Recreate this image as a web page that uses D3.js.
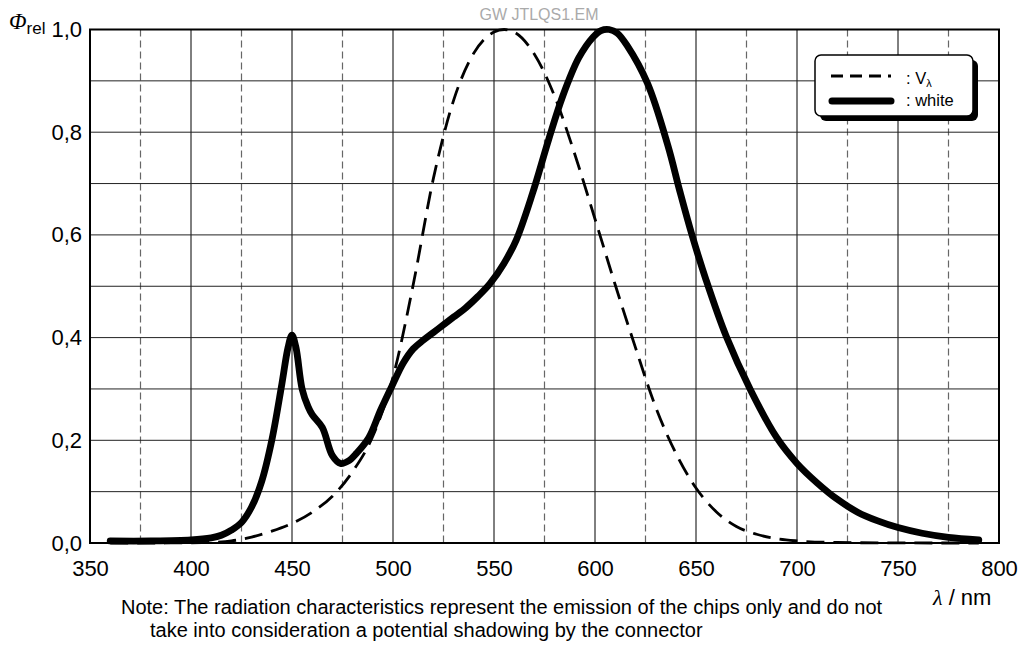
<!DOCTYPE html>
<html>
<head>
<meta charset="utf-8">
<title>GW JTLQS1.EM spectrum</title>
<script src="https://d3js.org/d3.v7.min.js"></script>
<style>
  body { margin: 0; background: #fff; }
  text { font-family: "Liberation Sans", Arial, Helvetica, sans-serif; fill: #000; }
</style>
</head>
<body>
<script>
// wavelength (nm) and relative flux
var whiteNm  = [360, 380, 400, 410, 415, 420, 425, 430, 435, 440, 445, 448, 450, 452, 455, 458, 460, 465, 470, 474, 478, 482, 488, 494, 500, 505, 510, 515, 520, 525, 530, 536, 542, 548, 555, 561, 569, 577, 584, 592, 599, 603, 607, 611, 616, 626, 636, 642, 648, 655, 665, 677, 690, 700, 710, 720, 730, 740, 750, 762, 775, 790]
var whiteVal = [0.004, 0.004, 0.006, 0.01, 0.015, 0.025, 0.04, 0.07, 0.12, 0.2, 0.31, 0.38, 0.405, 0.38, 0.3, 0.265, 0.25, 0.225, 0.17, 0.155, 0.16, 0.175, 0.205, 0.26, 0.31, 0.35, 0.378, 0.395, 0.41, 0.425, 0.44, 0.458, 0.48, 0.505, 0.545, 0.59, 0.68, 0.785, 0.87, 0.945, 0.985, 0.998, 1.0, 0.993, 0.968, 0.895, 0.775, 0.685, 0.6, 0.512, 0.402, 0.298, 0.205, 0.155, 0.117, 0.085, 0.06, 0.043, 0.03, 0.019, 0.011, 0.006]

var vNm  = [360, 380, 400, 410, 420, 430, 440, 450, 460, 470, 480, 490, 500, 510, 520, 530, 540, 550, 555, 560, 570, 580, 590, 600, 610, 620, 630, 640, 650, 660, 670, 680, 690, 700, 720, 750, 790]
var vVal = [0.0, 0.0, 0.0004, 0.0012, 0.004, 0.0116, 0.023, 0.038, 0.06, 0.091, 0.139, 0.208, 0.323, 0.503, 0.71, 0.862, 0.954, 0.995, 1.0, 0.995, 0.952, 0.87, 0.757, 0.631, 0.503, 0.381, 0.265, 0.175, 0.107, 0.061, 0.032, 0.017, 0.0082, 0.0041, 0.001, 0.0001, 0.0]

var xTicks = [350, 400, 450, 500, 550, 600, 650, 700, 750, 800]
var xHalfTicks = [375, 425, 475, 525, 575, 625, 675, 725, 775]
var yTicks = [0, 0.2, 0.4, 0.6, 0.8, 1.0]
var yGrid = [0.1, 0.2, 0.3, 0.4, 0.5, 0.6, 0.7, 0.8, 0.9]
var legendLabels = [': V', ': white']

var W = 1024, H = 646
var margin = { top: 29.5, right: 25, bottom: 103, left: 90 }
var w = W - margin.left - margin.right
var h = H - margin.top - margin.bottom

var xScale = d3.scaleLinear().domain([350, 800]).range([0, w])
var yScale = d3.scaleLinear().domain([0, 1]).range([h, 0])

var svg = d3.select('body').append('svg')
    .attr('width', W)
    .attr('height', H)

var g = svg.append('g')
    .attr('transform', 'translate(' + margin.left + ',' + margin.top + ')')

// grid
g.selectAll('.vdash').data(xHalfTicks).enter().append('line')
    .attr('x1', function (d) { return xScale(d) }).attr('x2', function (d) { return xScale(d) })
    .attr('y1', 0).attr('y2', h)
    .attr('stroke', '#666').attr('stroke-width', 1.2).attr('stroke-dasharray', '7,4')
g.selectAll('.vsolid').data(xTicks.slice(1, -1)).enter().append('line')
    .attr('x1', function (d) { return xScale(d) }).attr('x2', function (d) { return xScale(d) })
    .attr('y1', 0).attr('y2', h)
    .attr('stroke', '#000').attr('stroke-width', 1)
g.selectAll('.hgrid').data(yGrid).enter().append('line')
    .attr('x1', 0).attr('x2', w)
    .attr('y1', function (d) { return yScale(d) }).attr('y2', function (d) { return yScale(d) })
    .attr('stroke', '#222').attr('stroke-width', 1)

// axes (ticks hidden, labels kept)
var xAxis = d3.axisBottom(xScale).tickValues(xTicks).tickSize(0).tickPadding(17)
var yAxis = d3.axisLeft(yScale).tickValues(yTicks).tickSize(0).tickPadding(8)
    .tickFormat(function (d) { return d3.format('.1f')(d).replace('.', ',') })

var gx = g.append('g').attr('transform', 'translate(0,' + h + ')').call(xAxis)
var gy = g.append('g').call(yAxis)
gx.select('.domain').remove()
gy.select('.domain').remove()
gx.selectAll('text').attr('font-size', 22).attr('font-family', '"Liberation Sans", Arial, sans-serif').attr('fill', '#000')
gy.selectAll('text').attr('font-size', 22).attr('font-family', '"Liberation Sans", Arial, sans-serif').attr('fill', '#000')

// curves
var vLine = d3.line()
    .x(function (d) { return xScale(d[0]) })
    .y(function (d) { return yScale(d[1]) })
    .curve(d3.curveMonotoneX)

var whiteLine = d3.line()
    .x(function (d) { return xScale(d[0]) })
    .y(function (d) { return yScale(d[1]) })
    .curve(d3.curveCatmullRom.alpha(0.5))

g.append('path')
    .datum(d3.zip(vNm, vVal))
    .attr('d', vLine)
    .attr('fill', 'none')
    .attr('stroke', '#000')
    .attr('stroke-width', 2.8)
    .attr('stroke-dasharray', '18,9')

g.append('path')
    .datum(d3.zip(whiteNm, whiteVal))
    .attr('d', whiteLine)
    .attr('fill', 'none')
    .attr('stroke', '#000')
    .attr('stroke-width', 6.8)
    .attr('stroke-linejoin', 'round')
    .attr('stroke-linecap', 'round')

// frame
g.append('rect')
    .attr('x', 0).attr('y', 0).attr('width', w).attr('height', h)
    .attr('fill', 'none').attr('stroke', '#000').attr('stroke-width', 2)

// legend
var lg = svg.append('g').attr('transform', 'translate(815,55)')
lg.append('rect').attr('x', 5).attr('y', 5).attr('width', 158).attr('height', 61).attr('rx', 6)
    .attr('fill', '#000')
lg.append('rect').attr('x', 0).attr('y', 0).attr('width', 158).attr('height', 61).attr('rx', 6)
    .attr('fill', '#fff').attr('stroke', '#000').attr('stroke-width', 1.5)
lg.append('line').attr('x1', 16).attr('x2', 76).attr('y1', 21).attr('y2', 21)
    .attr('stroke', '#000').attr('stroke-width', 3).attr('stroke-dasharray', '12,7')
lg.append('line').attr('x1', 17).attr('x2', 76).attr('y1', 46).attr('y2', 46)
    .attr('stroke', '#000').attr('stroke-width', 7).attr('stroke-linecap', 'round')
var t1 = lg.append('text').attr('x', 91).attr('y', 29).attr('font-size', 16.5).text(legendLabels[0])
t1.append('tspan').attr('font-size', 11).attr('dy', 3).text('λ')
lg.append('text').attr('x', 91).attr('y', 51).attr('font-size', 16.5).text(legendLabels[1])

// titles
svg.append('text').attr('x', 539).attr('y', 20).attr('text-anchor', 'middle')
    .attr('font-size', 16).style('fill', '#aaa').text('GW JTLQS1.EM')

var yl = svg.append('text').attr('x', 9).attr('y', 29).attr('font-size', 23)
yl.append('tspan').attr('font-style', 'italic').attr('font-family', '"Liberation Serif", serif').text('Φ')
yl.append('tspan').attr('font-size', 17).attr('dy', 5).text('rel')

var xl = svg.append('text').attr('x', 933).attr('y', 605).attr('font-size', 22)
xl.append('tspan').attr('font-style', 'italic').attr('font-family', '"Liberation Serif", serif').text('λ')
xl.append('tspan').text(' / nm')

svg.append('text').attr('x', 121).attr('y', 614).attr('font-size', 20)
    .text('Note: The radiation characteristics represent the emission of the chips only and do not')
svg.append('text').attr('x', 150).attr('y', 637).attr('font-size', 20)
    .text('take into consideration a potential shadowing by the connector')
</script>
</body>
</html>
